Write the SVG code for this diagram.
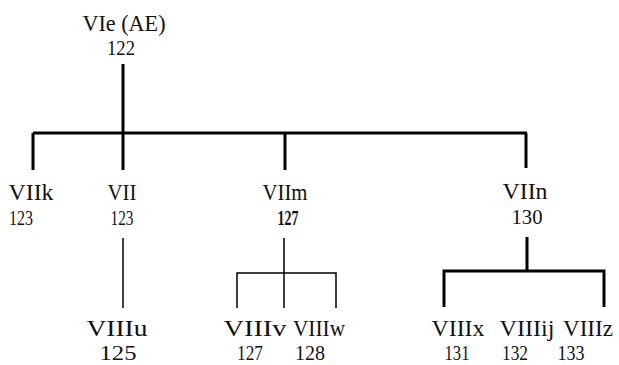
<svg xmlns="http://www.w3.org/2000/svg" width="619" height="365" viewBox="0 0 619 365">
<style>
text{font-family:"Liberation Serif","Times New Roman",serif;fill:#111;text-anchor:middle}
.lb{font-size:24px}
.nm{font-size:20px}
.thick{stroke:#000;stroke-width:3;fill:none}
.thin{stroke:#000;stroke-width:1.5;fill:none}
</style>
<rect width="619" height="365" fill="#fff"/>
<g id="connectors">
<path class="thick" d="M123,64V133M33,133H527M33,133V170M123,133V170M285,133V170M526,133V168"/>
<path class="thin" d="M123,238V308"/>
<path class="thin" d="M284,238V308M237,308V273H336V308"/>
<path class="thick" d="M527,237V271M444,307V271H604V307"/>
</g>
<g id="n_VIe"><text class="lb" x="124" y="31" textLength="83" lengthAdjust="spacingAndGlyphs">VIe (AE)</text><text class="nm" x="121" y="55" textLength="28" lengthAdjust="spacingAndGlyphs">122</text></g>
<g id="n_VIIk"><text class="lb" x="31" y="200" textLength="45" lengthAdjust="spacingAndGlyphs">VIIk</text><text class="nm" x="21" y="225" textLength="24" lengthAdjust="spacingAndGlyphs">123</text></g>
<g id="n_VII"><text class="lb" x="122" y="200" textLength="29" lengthAdjust="spacingAndGlyphs">VII</text><text class="nm" x="122" y="225" textLength="23" lengthAdjust="spacingAndGlyphs">123</text></g>
<g id="n_VIIm"><text class="lb" x="285" y="200" textLength="45" lengthAdjust="spacingAndGlyphs">VIIm</text><text class="nm" x="288" y="225" font-weight="bold" textLength="21" lengthAdjust="spacingAndGlyphs">127</text></g>
<g id="n_VIIn"><text class="lb" x="525" y="199" textLength="45" lengthAdjust="spacingAndGlyphs">VIIn</text><text class="nm" x="527" y="224" textLength="31" lengthAdjust="spacingAndGlyphs">130</text></g>
<g id="n_VIIIu"><text class="lb" x="117" y="336" textLength="61" lengthAdjust="spacingAndGlyphs">VIIIu</text><text class="nm" x="118" y="360" textLength="37" lengthAdjust="spacingAndGlyphs">125</text></g>
<g id="n_VIIIv"><text class="lb" x="255" y="336" textLength="63" lengthAdjust="spacingAndGlyphs">VIIIv</text><text class="nm" x="250" y="360" textLength="26" lengthAdjust="spacingAndGlyphs">127</text></g>
<g id="n_VIIIw"><text class="lb" x="319" y="336" textLength="52" lengthAdjust="spacingAndGlyphs">VIIIw</text><text class="nm" x="310" y="360" textLength="30" lengthAdjust="spacingAndGlyphs">128</text></g>
<g id="n_VIIIx"><text class="lb" x="458" y="336" textLength="53" lengthAdjust="spacingAndGlyphs">VIIIx</text><text class="nm" x="457" y="360" textLength="25" lengthAdjust="spacingAndGlyphs">131</text></g>
<g id="n_VIIIij"><text class="lb" x="527" y="336" textLength="55" lengthAdjust="spacingAndGlyphs">VIIIij</text><text class="nm" x="515" y="360" textLength="26" lengthAdjust="spacingAndGlyphs">132</text></g>
<g id="n_VIIIz"><text class="lb" x="588" y="336" textLength="50" lengthAdjust="spacingAndGlyphs">VIIIz</text><text class="nm" x="571" y="360" textLength="27" lengthAdjust="spacingAndGlyphs">133</text></g>
</svg>
